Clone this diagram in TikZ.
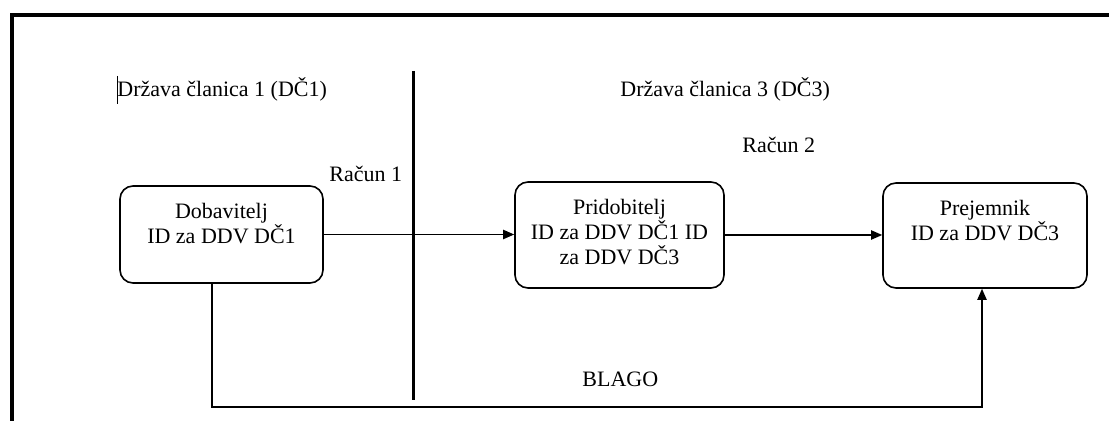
\documentclass[tikz,border=0pt]{standalone}
\usepackage{fontspec}
\setmainfont{Liberation Serif}
\usetikzlibrary{arrows.meta}
\tikzset{
	partybox/.style={draw, line width=0.8pt, rounded corners=6.5pt},
	partytext/.style={anchor=north, inner sep=0pt, align=center},
	plain/.style={anchor=base west, inner sep=0pt},
	flow/.style={line width=0.75pt, -{Triangle[length=5.5pt, width=4.6pt]}}
}

\begin{document}
\begin{tikzpicture}[x=0.5pt, y=-0.5pt, font=\fontsize{11}{12.5}\selectfont]
	\useasboundingbox (0,0) rectangle (1109,421);
	% frame and border between the two states
	\draw[line width=2pt] (12,425) -- (12,15) -- (1113,15);
	\coordinate (divTop) at (413,71);
	\coordinate (divBot) at (413,400);
	\draw[line width=1.5pt] (divTop) -- (divBot);
	\draw[line width=0.5pt] (117,76) -- (117,104);
	\node[plain] (ms1) at (117,97) {Država članica 1 (DČ1)};
	\node[plain] (ms3) at (620,97) {Država članica 3 (DČ3)};
	\node[plain] (inv1) at (329,182) {Račun 1};
	\node[plain] (inv2) at (742,153) {Račun 2};
	% the three parties
	\node[partybox, minimum width=101.5pt, minimum height=48.5pt] (dob) at (221.5,234.5) {};
	\node[partybox, minimum width=104.5pt, minimum height=53pt] (prid) at (619.5,235) {};
	\node[partybox, minimum width=102pt, minimum height=52.5pt] (prej) at (985,235.5) {};
	\node[partytext] (dobtxt) at ([yshift=-9pt]dob.north) {Dobavitelj\\ID za DDV DČ1};
	\node[partytext] (pridtxt) at ([yshift=-9pt]prid.north) {Pridobitelj\\ID za DDV DČ1 ID\\za DDV DČ3};
	\node[partytext] (prejtxt) at ([yshift=-9pt]prej.north) {Prejemnik\\ID za DDV DČ3};
	\draw[flow] (dob.east) -- (dob.east -| prid.west);
	\draw[flow] (prid.east) -- (prid.east -| prej.west);
	% goods go directly
	\coordinate (blagoL) at (212,407);
	\coordinate (blagoR) at (982,407);
	\draw[flow] (blagoL |- dob.south) -- (blagoL) -- (blagoR) -- (blagoR |- prej.south);
	\node[plain] (blago) at (582,387) {BLAGO};
\end{tikzpicture}
\end{document}
